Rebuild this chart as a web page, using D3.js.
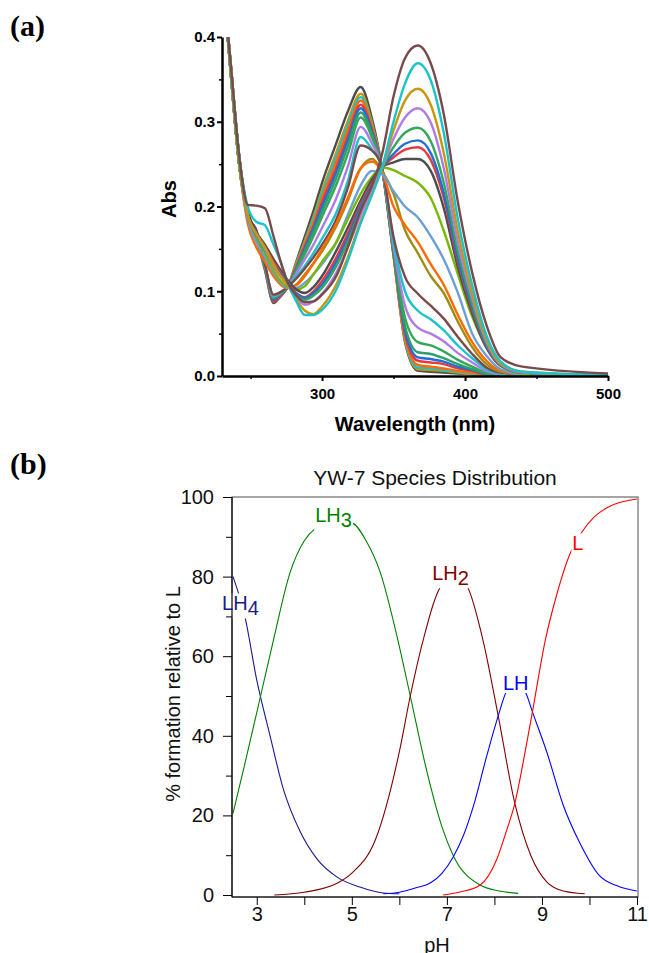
<!DOCTYPE html>
<html>
<head>
<meta charset="utf-8">
<script src="https://cdn.jsdelivr.net/npm/d3@7"></script>
<style>
  body { margin: 0; background: #fff; }
  svg { display: block; }
</style>
</head>
<body>
<script>
// ---------- panel (a): absorption spectra ----------
const wavelengths = [230, 236, 242, 248, 254, 260, 266, 271, 276, 282, 288, 294, 300, 310, 318, 327, 335, 342, 350, 358, 367, 376, 385, 395, 405, 415, 425, 440, 500];

// spectra with the 327 nm band
const acidColors = ["#4d4d4d", "#c9960c", "#19c3cc", "#ff6a00", "#e8383d", "#1f6fd8", "#2e9e6e", "#36a65a", "#b07be6", "#19c3cc", "#7a4a4a"];
const acidAbs = [
  [.48,.36,.25,.19,.162,.125,.086,.094,.105,.135,.165,.195,.228,.275,.312,.341,.303,.245,.142,.040,.006,.005,.004,.003,.002,.001,.001,0,0],
  [.48,.36,.25,.19,.165,.127,.088,.095,.105,.133,.160,.188,.219,.264,.301,.333,.298,.245,.142,.042,.008,.007,.006,.004,.002,.001,.001,0,0],
  [.48,.36,.25,.19,.168,.128,.090,.096,.105,.131,.158,.185,.215,.259,.296,.329,.295,.245,.143,.044,.010,.009,.007,.005,.003,.001,.001,0,0],
  [.48,.36,.25,.19,.165,.127,.089,.095,.105,.130,.156,.181,.210,.253,.290,.325,.293,.245,.143,.046,.013,.011,.009,.006,.004,.001,.001,0,0],
  [.48,.36,.25,.19,.170,.129,.088,.095,.105,.129,.153,.177,.205,.246,.283,.320,.290,.245,.145,.050,.018,.016,.014,.009,.006,.002,.001,.001,0],
  [.48,.36,.25,.19,.168,.128,.090,.096,.105,.127,.151,.174,.200,.241,.278,.316,.288,.245,.146,.054,.022,.020,.017,.011,.007,.002,.001,.001,0],
  [.48,.36,.25,.19,.170,.130,.092,.097,.105,.126,.148,.170,.194,.234,.271,.311,.285,.245,.147,.059,.028,.026,.021,.014,.008,.003,.001,.001,0],
  [.48,.36,.25,.19,.168,.129,.092,.097,.105,.124,.144,.165,.188,.226,.262,.305,.281,.245,.150,.069,.040,.036,.029,.019,.011,.004,.002,.001,0],
  [.48,.36,.25,.19,.172,.131,.094,.098,.105,.121,.138,.155,.175,.210,.247,.294,.274,.245,.154,.083,.057,.050,.041,.027,.016,.006,.002,.001,0],
  [.48,.36,.25,.19,.170,.131,.095,.099,.105,.117,.130,.145,.162,.193,.230,.282,.267,.245,.159,.100,.077,.067,.054,.036,.021,.008,.003,.001,0],
  [.48,.36,.25,.19,.172,.132,.096,.099,.105,.115,.127,.140,.155,.185,.222,.272,.266,.245,.164,.117,.097,.083,.068,.046,.026,.010,.004,.002,0]
];

// transition spectra
const midColors = ["#a08c10", "#ff6a00", "#6b9fd8", "#77b800"];
const midAbs = [
  [.48,.36,.255,.195,.168,.145,.12,.108,.104,.108,.12,.133,.147,.177,.207,.245,.256,.242,.215,.172,.145,.118,.098,.064,.034,.014,.005,.002,0],
  [.48,.36,.25,.18,.152,.135,.118,.108,.104,.107,.118,.133,.150,.180,.210,.245,.253,.240,.200,.178,.158,.132,.108,.072,.040,.018,.006,.002,0],
  [.48,.36,.25,.185,.158,.14,.122,.11,.104,.104,.11,.12,.132,.158,.19,.225,.242,.238,.218,.200,.187,.165,.138,.098,.050,.024,.008,.002,0],
  [.48,.36,.25,.19,.165,.145,.125,.112,.105,.102,.106,.12,.135,.158,.185,.215,.235,.246,.243,.236,.228,.21,.172,.12,.07,.034,.012,.003,0]
];

// spectra with the 367 nm band
const baseColors = ["#4d4d4d", "#e8383d", "#1f6fd8", "#36a65a", "#b07be6", "#c9960c", "#19c3cc", "#7a4a4a"];
const baseAbs = [
  [.48,.37,.26,.195,.17,.155,.138,.125,.113,.102,.098,.105,.118,.148,.175,.207,.232,.247,.252,.256,.256,.242,.199,.128,.074,.033,.012,.004,.001],
  [.48,.37,.26,.19,.168,.152,.135,.122,.11,.098,.093,.1,.112,.14,.168,.203,.228,.246,.258,.267,.270,.255,.211,.135,.078,.035,.012,.004,.001],
  [.48,.37,.26,.19,.167,.15,.132,.12,.109,.097,.092,.098,.108,.135,.163,.2,.226,.246,.262,.274,.278,.263,.217,.139,.081,.036,.013,.004,.001],
  [.48,.37,.26,.19,.166,.148,.13,.118,.108,.095,.09,.095,.104,.13,.158,.196,.224,.246,.27,.287,.293,.277,.229,.147,.085,.038,.013,.004,.001],
  [.48,.37,.26,.19,.168,.15,.13,.117,.107,.092,.084,.088,.097,.122,.152,.19,.22,.246,.28,.305,.316,.299,.246,.158,.092,.041,.014,.004,.001],
  [.48,.37,.26,.19,.168,.152,.132,.118,.107,.09,.077,.073,.082,.108,.14,.182,.215,.246,.29,.325,.339,.320,.264,.170,.098,.044,.015,.005,.001],
  [.48,.37,.26,.2,.182,.178,.155,.135,.11,.088,.072,.072,.078,.102,.136,.18,.214,.246,.30,.345,.369,.349,.288,.185,.107,.048,.017,.005,.001],
  [.48,.37,.26,.202,.201,.198,.165,.135,.11,.095,.087,.088,.096,.118,.152,.195,.225,.262,.33,.375,.390,.369,.310,.205,.122,.060,.022,.011,.003]
];

const absTicks = [0, 0.1, 0.2, 0.3, 0.4];
const absMinor = [0.05, 0.15, 0.25, 0.35];
const wlTicks = [300, 400, 500];
const wlMinor = [250, 350, 450];

// ---------- panel (b): species distribution ----------
const phTicks = [3, 5, 7, 9, 11];
const phMinor = [4, 6, 8, 10];
const pctTicks = [0, 20, 40, 60, 80, 100];
const pctMinor = [10, 30, 50, 70, 90];

const lh4 = [[2.5,80],[2.75,70],[3.0,54],[3.28,40],[3.55,27],[3.91,16],[4.27,9],[4.69,4.5],[5.17,2],[5.66,0.5],[6.0,0.3]];
const lh3 = [[2.5,20.5],[2.75,33],[3.08,50],[3.35,64],[3.7,81],[4.0,89],[4.25,92.3],[4.6,94],[5.0,93.5],[5.3,89],[5.6,81],[5.97,64],[6.23,50],[6.58,31],[6.9,17],[7.13,10],[7.7,2.5],[8.1,1],[8.5,0.4]];
const lh2 = [[3.37,0],[4.0,0.7],[4.7,3],[5.0,5.5],[5.5,14],[6.0,36],[6.23,50],[6.5,64],[6.9,78],[7.2,80],[7.43,77.5],[7.76,64],[8.08,45],[8.43,23],[8.77,9.8],[9.1,3.3],[9.45,1],[9.9,0.3]];
const lh1 = [[5.66,0.3],[6.0,0.7],[6.35,1.8],[6.65,3],[6.9,5.5],[7.13,9.5],[7.35,15],[7.55,22],[7.84,35],[8.08,45],[8.25,51],[8.45,53],[8.65,51],[8.8,46],[9.1,36],[9.45,22.5],[9.8,13],[10.2,5],[10.58,2.3],[11.0,1]];
const lFree = [[6.92,0],[7.3,0.8],[7.7,2.5],[8.05,9],[8.25,16],[8.43,23],[8.6,33],[8.8,46],[9.07,64],[9.3,75],[9.6,86],[9.83,91],[10.1,95],[10.4,97.5],[11.0,99.5]];

const speciesSeries = [lh4, lh3, lh2, lh1, lFree];
const speciesColors = ["#1a1a8c", "#008000", "#800000", "#0000ff", "#ff0000"];
const speciesLabels = [["LH", "4"], ["LH", "3"], ["LH", "2"], ["LH", ""], ["L", ""]];
// label anchors in data units (pH, %)
const labelAnchors = [[2.27, 71.5], [4.23, 93.6], [6.69, 79.1], [8.18, 51.5], [9.64, 86.6]];

const W = 649, H = 953;
const sans = "'Liberation Sans', Arial, sans-serif";
const serif = "'Liberation Serif', 'Times New Roman', serif";

const svg = d3.select("body").append("svg")
    .attr("width", W).attr("height", H)
    .attr("viewBox", `0 0 ${W} ${H}`);

// ===== panel (a) =====
const xA = d3.scaleLinear().domain([230, 500]).range([222, 608]);
const yA = d3.scaleLinear().domain([0, 0.4]).range([376, 37]);

svg.append("defs").append("clipPath").attr("id", "clipA")
   .append("rect").attr("x", 222).attr("y", 37).attr("width", 388).attr("height", 339);

const lineA = d3.line()
    .x((d, i) => xA(wavelengths[i]))
    .y(d => yA(d))
    .curve(d3.curveMonotoneX);

const gLines = svg.append("g").attr("clip-path", "url(#clipA)");
function drawSet(rows, colors) {
    rows.forEach((row, i) => {
        gLines.append("path")
              .attr("d", lineA(row))
              .attr("fill", "none")
              .attr("stroke", colors[i])
              .attr("stroke-width", 2.4)
              .attr("stroke-linejoin", "round");
    });
}
drawSet(acidAbs, acidColors);
drawSet(midAbs, midColors);
drawSet(baseAbs, baseColors);

function styleAxisA(g) {
    g.select(".domain").attr("stroke", "#000").attr("stroke-width", 2.5);
    g.selectAll(".tick line").attr("stroke", "#000").attr("stroke-width", 2);
    g.selectAll("text").attr("font-family", sans).attr("font-weight", "bold")
     .attr("font-size", 15).attr("fill", "#000");
}

svg.append("g").attr("transform", "translate(222,0)")
   .call(d3.axisLeft(yA).tickValues(absMinor).tickSize(3).tickFormat(""))
   .call(g => g.select(".domain").remove())
   .call(g => g.selectAll(".tick line").attr("stroke", "#000").attr("stroke-width", 1.5));
svg.append("g").attr("transform", "translate(0,376)")
   .call(d3.axisBottom(xA).tickValues(wlMinor).tickSize(3).tickFormat(""))
   .call(g => g.select(".domain").remove())
   .call(g => g.selectAll(".tick line").attr("stroke", "#000").attr("stroke-width", 1.5));

svg.append("g").attr("transform", "translate(222,0)")
   .call(d3.axisLeft(yA).tickValues(absTicks).tickSize(5).tickSizeOuter(0).tickPadding(2).tickFormat(d3.format(".1f")))
   .call(styleAxisA);
svg.append("g").attr("transform", "translate(0,376)")
   .call(d3.axisBottom(xA).tickValues(wlTicks).tickSize(5).tickSizeOuter(0).tickPadding(7))
   .call(styleAxisA);

svg.append("text")
   .attr("transform", "translate(176,199) rotate(-90)")
   .attr("text-anchor", "middle")
   .attr("font-family", sans).attr("font-weight", "bold").attr("font-size", 20)
   .text("Abs");
svg.append("text")
   .attr("x", 415).attr("y", 431)
   .attr("text-anchor", "middle")
   .attr("font-family", sans).attr("font-weight", "bold").attr("font-size", 20)
   .text("Wavelength (nm)");

svg.append("text").attr("x", 10).attr("y", 36)
   .attr("font-family", serif).attr("font-weight", "bold").attr("font-size", 30)
   .text("(a)");

// ===== panel (b) =====
const xB = d3.scaleLinear().domain([2.5, 11]).range([233, 637]);
const yB = d3.scaleLinear().domain([0, 100]).range([895, 497]);

svg.append("text").attr("x", 10).attr("y", 474)
   .attr("font-family", serif).attr("font-weight", "bold").attr("font-size", 30)
   .text("(b)");

svg.append("text").attr("x", 435).attr("y", 485)
   .attr("text-anchor", "middle")
   .attr("font-family", sans).attr("font-size", 21).attr("fill", "#111")
   .text("YW-7 Species Distribution");

// frame
svg.append("rect").attr("x", 232).attr("y", 497).attr("width", 406).attr("height", 400)
   .attr("fill", "none").attr("stroke", "#6b6b6b").attr("stroke-width", 1.2);

const lineB = d3.line()
    .x(d => xB(d[0]))
    .y(d => yB(d[1]))
    .curve(d3.curveMonotoneX);

speciesSeries.forEach((s, i) => {
    svg.append("path")
       .attr("d", lineB(s))
       .attr("fill", "none")
       .attr("stroke", speciesColors[i])
       .attr("stroke-width", 1.1);
});

// species labels on white patches that break the curves
speciesLabels.forEach((lab, i) => {
    const g = svg.append("g");
    const t = g.append("text")
        .attr("x", xB(labelAnchors[i][0]))
        .attr("y", yB(labelAnchors[i][1]))
        .attr("font-family", sans).attr("font-size", 20)
        .attr("fill", speciesColors[i]);
    t.append("tspan").text(lab[0]);
    if (lab[1]) t.append("tspan").attr("dy", 5).text(lab[1]);
    const bb = t.node().getBBox();
    g.insert("rect", "text")
     .attr("x", bb.x - 1).attr("y", bb.y + 1)
     .attr("width", bb.width + 2).attr("height", bb.height - 2)
     .attr("fill", "#fff");
});

function styleAxisB(g) {
    g.select(".domain").attr("stroke", "#000").attr("stroke-width", 1.2);
    g.selectAll(".tick line").attr("stroke", "#000").attr("stroke-width", 1);
    g.selectAll("text").attr("font-family", sans).attr("font-size", 20).attr("fill", "#111");
}

svg.append("g").attr("transform", "translate(232,0)")
   .call(d3.axisLeft(yB).tickValues(pctMinor).tickSize(6).tickFormat(""))
   .call(g => g.select(".domain").remove())
   .call(g => g.selectAll(".tick line").attr("stroke", "#000"));
svg.append("g").attr("transform", "translate(0,897)")
   .call(d3.axisBottom(xB).tickValues(phMinor).tickSize(8).tickFormat(""))
   .call(g => g.select(".domain").remove())
   .call(g => g.selectAll(".tick line").attr("stroke", "#000"));

svg.append("g").attr("transform", "translate(232,0)")
   .call(d3.axisLeft(yB).tickValues(pctTicks).tickSize(9).tickSizeOuter(0).tickPadding(9))
   .call(styleAxisB)
   .call(g => g.select(".domain").attr("d", "M0,497V897"));
svg.append("g").attr("transform", "translate(0,897)")
   .call(d3.axisBottom(xB).tickValues(phTicks).tickSize(8).tickSizeOuter(0).tickPadding(2))
   .call(styleAxisB)
   .call(g => g.select(".domain").attr("d", "M232,0H638"));

svg.append("text")
   .attr("transform", "translate(180,694) rotate(-90)")
   .attr("text-anchor", "middle")
   .attr("font-family", sans).attr("font-size", 20).attr("fill", "#111")
   .text("% formation relative to L");
svg.append("text")
   .attr("x", 437).attr("y", 952)
   .attr("text-anchor", "middle")
   .attr("font-family", sans).attr("font-size", 20).attr("fill", "#111")
   .text("pH");
</script>
</body>
</html>
